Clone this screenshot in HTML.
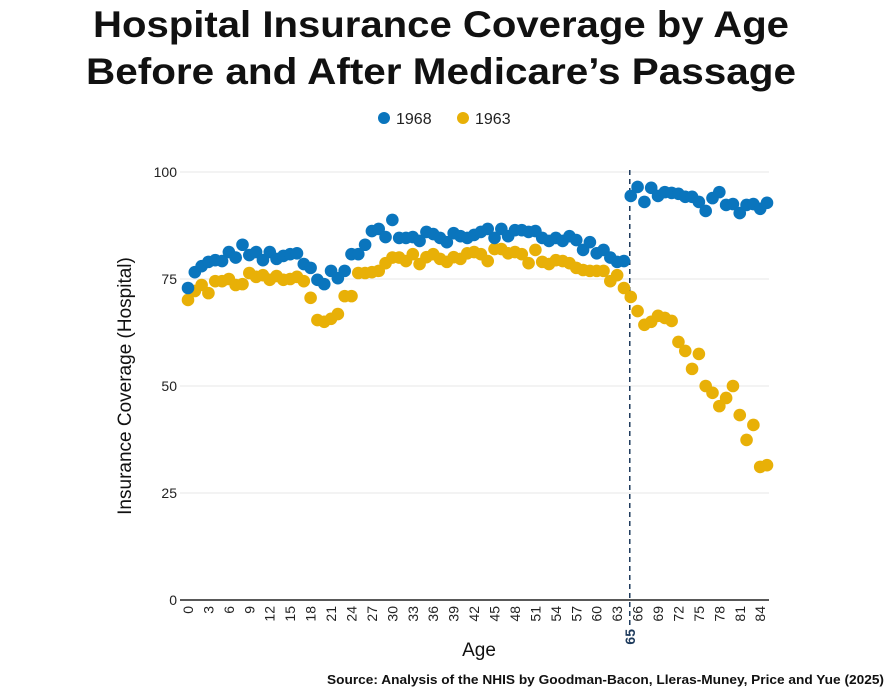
<!DOCTYPE html>
<html><head><meta charset="utf-8"><style>
body{margin:0;background:#fff;font-family:"Liberation Sans","DejaVu Sans",sans-serif}
svg text{font-family:"Liberation Sans","DejaVu Sans",sans-serif}
</style></head><body>
<svg id="chart" width="887" height="693" viewBox="0 0 887 693">
<text x="441" y="37" text-anchor="middle" font-size="37" font-weight="bold" fill="#111" textLength="696" lengthAdjust="spacingAndGlyphs">Hospital Insurance Coverage by Age</text>
<text x="441" y="84" text-anchor="middle" font-size="37" font-weight="bold" fill="#111" textLength="710" lengthAdjust="spacingAndGlyphs">Before and After Medicare’s Passage</text>
<g>
<circle cx="384" cy="118" r="6" fill="#0a75bd"/>
<text x="396" y="124" font-size="16" fill="#222">1968</text>
<circle cx="463" cy="118" r="6" fill="#e8b007"/>
<text x="475" y="124" font-size="16" fill="#222">1963</text>
</g>
<g id="grid"></g><g id="axes"></g><g id="marks"></g>
<text transform="translate(131,386) rotate(-90)" text-anchor="middle" font-size="19" fill="#111">Insurance Coverage (Hospital)</text>
<text x="479" y="656" text-anchor="middle" font-size="19" fill="#111">Age</text>
<text x="884" y="684" text-anchor="end" font-size="13" font-weight="bold" fill="#111" textLength="557" lengthAdjust="spacingAndGlyphs">Source: Analysis of the NHIS by Goodman-Bacon, Lleras-Muney, Price and Yue (2025)</text>
</svg>
<script>
const ages=[];for(let a=0;a<=85;a++)ages.push(a);
const cov1968=[72.9,76.6,78,79,79.4,79.2,81.3,80,83,80.6,81.3,79.4,81.3,79.7,80.4,80.8,81,78.5,77.6,74.8,73.8,76.9,75.2,76.9,80.8,80.8,83,86.2,86.7,84.8,88.8,84.6,84.6,84.8,83.9,86,85.5,84.6,83.6,85.7,85,84.6,85.3,86,86.7,84.6,86.7,85,86.4,86.4,86,86.2,84.6,83.9,84.6,83.9,85,84.1,81.8,83.6,81,81.8,80,79,79.2,94.4,96.5,93,96.3,94.4,95.3,95.1,94.9,94.2,94.2,93,90.9,93.9,95.3,92.3,92.5,90.4,92.3,92.5,91.4,92.8];
const cov1963=[70.1,72.2,73.6,71.7,74.5,74.5,75,73.6,73.8,76.4,75.5,75.9,74.8,75.7,74.8,75,75.5,74.5,70.6,65.4,65,65.7,66.8,71,71,76.4,76.4,76.6,76.9,78.7,80,80,79.2,80.8,78.5,80.1,80.8,79.7,79,80.1,79.7,81,81.3,80.8,79.2,82,82,81,81.3,80.8,78.7,81.8,79,78.5,79.4,79.2,78.7,77.6,77.1,76.9,76.9,76.9,74.5,75.9,72.9,70.8,67.5,64.3,65,66.4,65.9,65.2,60.3,58.2,54,57.5,50,48.4,45.3,47.2,50,43.2,37.4,40.9,31.1,31.5];
const yTicks=[0,25,50,75,100];
const xTicks=[];for(let a=0;a<=84;a+=3)xTicks.push(a);
const cutoffAge=65;
const NS="http://www.w3.org/2000/svg";
const X0=188,X1=767,A0=0,A1=85,Y0=600,Y1=172;
const xs=a=>X0+(a-A0)/(A1-A0)*(X1-X0);
const ys=v=>Y0-(v/100)*(Y0-Y1);
function mk(tag,attrs,parent,txt){const e=document.createElementNS(NS,tag);for(const k in attrs)e.setAttribute(k,attrs[k]);if(txt!==undefined)e.textContent=txt;parent.appendChild(e);return e;}
const grid=document.getElementById('grid'),axes=document.getElementById('axes'),marks=document.getElementById('marks');
yTicks.forEach(v=>{
 if(v>0){const l=mk('line',{x1:180,x2:X1+2,y1:ys(v),y2:ys(v),stroke:'#ececec','stroke-width':1.2},grid);
 
 }
 const t=mk('text',{x:177,y:ys(v)+5,'text-anchor':'end','font-size':14,fill:'#222'},axes,String(v));
 
 
});
const ax=mk('line',{x1:180,x2:X1+2,y1:Y0,y2:Y0,stroke:'#222','stroke-width':1.5},axes);


xTicks.forEach(a=>{
 const t=mk('text',{transform:`translate(${xs(a)+5},${Y0+6}) rotate(-90)`,'text-anchor':'end','font-size':14,fill:'#222'},axes,String(a));
 
 
});
const cl=mk('line',{x1:xs(cutoffAge)-1,x2:xs(cutoffAge)-1,y1:170,y2:Y0+25,stroke:'#1d3a5c','stroke-width':1.5,'stroke-dasharray':'5,4'},axes);


const cll=mk('text',{transform:`translate(${xs(cutoffAge)+4},${Y0+29}) rotate(-90)`,'text-anchor':'end','font-size':14,'font-weight':'bold',fill:'#1d3a5c'},axes,'65');


ages.forEach((a,i)=>{
 const c=mk('circle',{cx:xs(a),cy:ys(cov1963[i]),r:6.3,fill:'#e8b007'},marks);
 
 
});
ages.forEach((a,i)=>{
 const c=mk('circle',{cx:xs(a),cy:ys(cov1968[i]),r:6.3,fill:'#0a75bd'},marks);
 
 
});
</script>
</body></html>
